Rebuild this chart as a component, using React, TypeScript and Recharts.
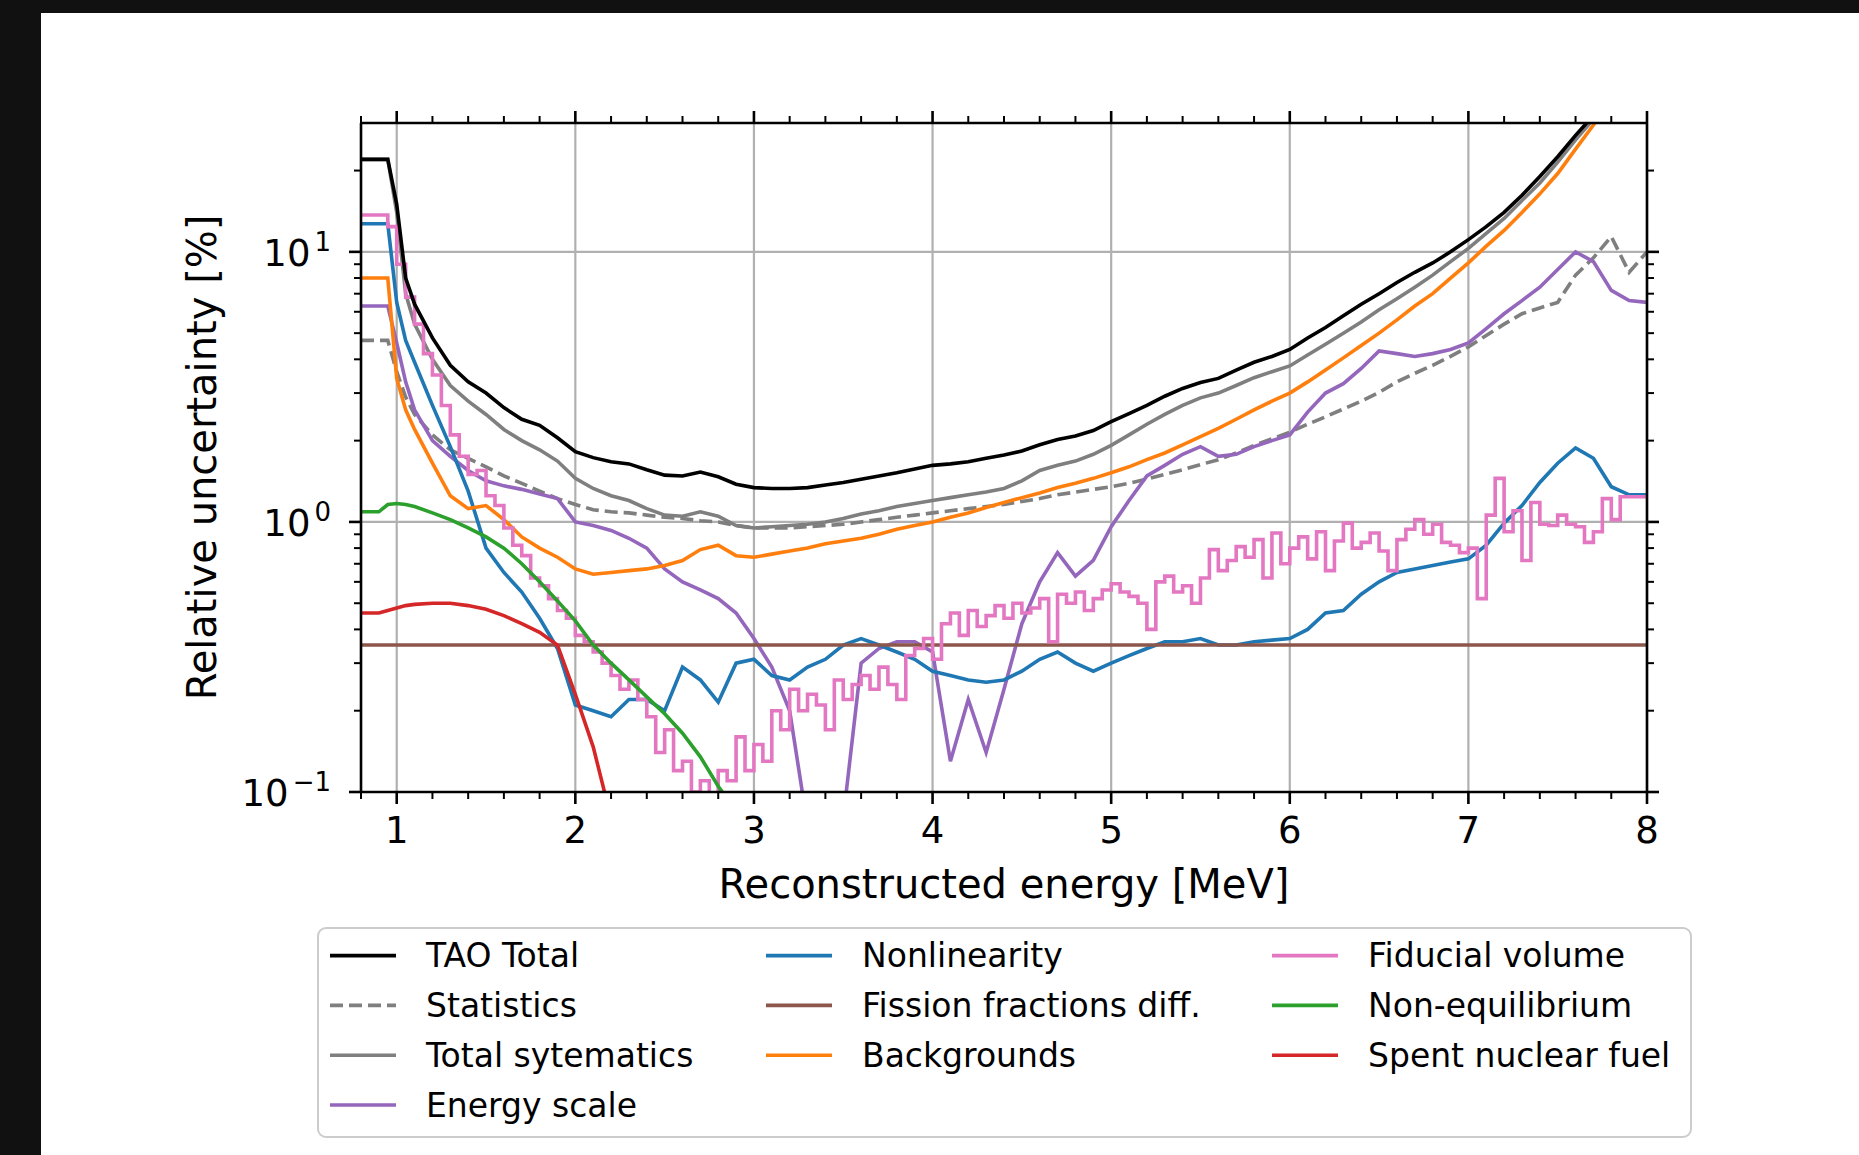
import React from "react";
import { LineChart, Line, XAxis, YAxis, CartesianGrid } from "recharts";

const FONT = "'DejaVu Sans', sans-serif";
const W = 1859;
const H = 1155;
const PLOT = { left: 361, top: 123, right: 1647, bottom: 792 };
// axes get a 1px box so that they are laid out; ticks are drawn by hand
const AXIS_BOX = 1;
const LINE_W = 3.6;

// bin positions in MeV shared by the smooth curves
const energy = [
  0.8, 0.9, 0.95, 1.0, 1.05,
  1.1, 1.2, 1.3, 1.4, 1.5, 1.6, 1.7, 1.8, 1.9, 2.0,
  2.1, 2.2, 2.3, 2.4, 2.5, 2.6, 2.7, 2.8, 2.9, 3.0,
  3.1, 3.2, 3.3, 3.4, 3.5, 3.6, 3.7, 3.8, 3.9, 4.0,
  4.1, 4.2, 4.3, 4.4, 4.5, 4.6, 4.7, 4.8, 4.9, 5.0,
  5.1, 5.2, 5.3, 5.4, 5.5, 5.6, 5.7, 5.8, 5.9, 6.0,
  6.1, 6.2, 6.3, 6.4, 6.5, 6.6, 6.7, 6.8, 6.9, 7.0,
  7.1, 7.2, 7.3, 7.4, 7.5, 7.6, 7.7, 7.8, 7.9, 8.0,
];

// finer binning for the fiducial volume histogram
const energyFine = [
  0.8, 0.95,
  1.0, 1.05, 1.1, 1.15, 1.2, 1.25, 1.3, 1.35, 1.4, 1.45,
  1.5, 1.55, 1.6, 1.65, 1.7, 1.75, 1.8, 1.85, 1.9, 1.95,
  2.0, 2.05, 2.1, 2.15, 2.2, 2.25, 2.3, 2.35, 2.4, 2.45,
  2.5, 2.55, 2.6, 2.65, 2.7, 2.75, 2.8, 2.85, 2.9, 2.95,
  3.0, 3.05, 3.1, 3.15, 3.2, 3.25, 3.3, 3.35, 3.4, 3.45,
  3.5, 3.55, 3.6, 3.65, 3.7, 3.75, 3.8, 3.85, 3.9, 3.95,
  4.0, 4.05, 4.1, 4.15, 4.2, 4.25, 4.3, 4.35, 4.4, 4.45,
  4.5, 4.55, 4.6, 4.65, 4.7, 4.75, 4.8, 4.85, 4.9, 4.95,
  5.0, 5.05, 5.1, 5.15, 5.2, 5.25, 5.3, 5.35, 5.4, 5.45,
  5.5, 5.55, 5.6, 5.65, 5.7, 5.75, 5.8, 5.85, 5.9, 5.95,
  6.0, 6.05, 6.1, 6.15, 6.2, 6.25, 6.3, 6.35, 6.4, 6.45,
  6.5, 6.55, 6.6, 6.65, 6.7, 6.75, 6.8, 6.85, 6.9, 6.95,
  7.0, 7.05, 7.1, 7.15, 7.2, 7.25, 7.3, 7.35, 7.4, 7.45,
  7.5, 7.55, 7.6, 7.65, 7.7, 7.75, 7.8, 7.85, 7.9, 7.95,
  8.0,
];

const fissionEnergy = [0.8, 8.0];

// relative uncertainties in percent
const taoTotal = [
  22, 22, 22, 15, 8.0,
  6.4, 4.8, 3.8, 3.3, 3.0, 2.65, 2.4, 2.28, 2.05, 1.82,
  1.73, 1.67, 1.64, 1.56, 1.49, 1.48, 1.53, 1.47, 1.38, 1.34,
  1.33, 1.33, 1.34, 1.37, 1.4, 1.44, 1.48, 1.52, 1.57, 1.62,
  1.64, 1.67, 1.72, 1.77, 1.83, 1.93, 2.02, 2.08, 2.18, 2.35,
  2.52, 2.7, 2.92, 3.12, 3.28, 3.4, 3.65, 3.9, 4.1, 4.35,
  4.8, 5.25, 5.8, 6.4, 7.0, 7.7, 8.4, 9.1, 10.0, 11.1,
  12.4, 14.0, 16.2, 19.0, 22.5, 27.0, 32, 38, 46, 55,
];

const statistics = [
  4.7, 4.7, 4.7, 3.6, 2.9,
  2.5, 2.1, 1.85, 1.72, 1.6, 1.48, 1.39, 1.3, 1.22, 1.16,
  1.11, 1.09, 1.08, 1.06, 1.04, 1.03, 1.01, 1.0, 0.97, 0.95,
  0.95, 0.95, 0.96, 0.97, 0.98, 1.0, 1.02, 1.04, 1.06, 1.08,
  1.1, 1.12, 1.14, 1.16, 1.19, 1.22, 1.26, 1.29, 1.32, 1.35,
  1.39, 1.44, 1.5, 1.56, 1.63, 1.7, 1.8, 1.92, 2.03, 2.15,
  2.3, 2.45, 2.62, 2.8, 3.02, 3.3, 3.55, 3.8, 4.1, 4.45,
  4.9, 5.4, 5.9, 6.2, 6.5, 8.2, 9.5, 11.4, 8.4, 10.0,
];

const totalSystematics = [
  22, 22, 22, 14, 7.0,
  5.4, 4.0, 3.2, 2.8, 2.5, 2.2, 2.0, 1.85, 1.68, 1.45,
  1.33, 1.25, 1.2, 1.12, 1.06, 1.05, 1.09, 1.05, 0.97, 0.95,
  0.96, 0.97, 0.98, 1.0, 1.03, 1.07, 1.1, 1.14, 1.17, 1.2,
  1.23, 1.26, 1.29, 1.33, 1.42, 1.55, 1.62, 1.68, 1.78, 1.92,
  2.1, 2.3, 2.5, 2.7, 2.88, 3.0, 3.2, 3.42, 3.6, 3.78,
  4.15, 4.55, 5.0, 5.5, 6.1, 6.7, 7.4, 8.2, 9.2, 10.3,
  11.7, 13.3, 15.5, 18, 21.5, 26, 31, 37, 45, 54,
];

const energyScale = [
  6.3, 6.3, 6.3, 4.6, 3.3,
  2.6, 2.0, 1.75, 1.55, 1.42, 1.36, 1.32, 1.27, 1.22, 1.0,
  0.97, 0.93, 0.87, 0.8, 0.67, 0.6, 0.56, 0.52, 0.46, 0.37,
  0.29, 0.2, 0.075, 0.06, 0.08, 0.3, 0.34, 0.36, 0.36, 0.33,
  0.13, 0.22, 0.14, 0.24, 0.42, 0.6, 0.77, 0.63, 0.72, 0.96,
  1.2, 1.48, 1.62, 1.78, 1.9, 1.75, 1.78, 1.9, 2.0, 2.1,
  2.55, 3.0, 3.25, 3.7, 4.3, 4.2, 4.1, 4.2, 4.35, 4.6,
  5.2, 5.9, 6.6, 7.4, 8.6, 10.0, 9.2, 7.2, 6.6, 6.5,
];

const nonlinearity = [
  12.7, 12.7, 12.7, 6.5, 4.7,
  3.9, 2.7, 1.9, 1.3, 0.8, 0.65, 0.55, 0.44, 0.34, 0.21,
  0.2, 0.19, 0.22, 0.22, 0.2, 0.29, 0.26, 0.215, 0.3, 0.31,
  0.27, 0.26, 0.29, 0.31, 0.35, 0.37, 0.35, 0.33, 0.31, 0.28,
  0.27, 0.26, 0.255, 0.26, 0.28, 0.31, 0.33, 0.3, 0.28, 0.3,
  0.32, 0.34, 0.36, 0.36, 0.37, 0.35, 0.35, 0.36, 0.365, 0.37,
  0.4, 0.46, 0.47, 0.54, 0.6, 0.65, 0.67, 0.69, 0.71, 0.73,
  0.82, 0.99, 1.15, 1.4, 1.65, 1.88, 1.72, 1.35, 1.26, 1.26,
];

const fissionFractions = [0.35, 0.35];

const backgrounds = [
  8.0, 8.0, 8.0, 3.4, 2.6,
  2.2, 1.65, 1.25, 1.12, 1.15, 1.02, 0.88, 0.8, 0.74, 0.67,
  0.64, 0.65, 0.66, 0.67, 0.69, 0.72, 0.79, 0.82, 0.75, 0.74,
  0.76, 0.78, 0.8, 0.83, 0.85, 0.87, 0.9, 0.94, 0.97, 1.0,
  1.04, 1.08, 1.13, 1.18, 1.23, 1.28, 1.34, 1.39, 1.45, 1.52,
  1.6, 1.7, 1.8, 1.93, 2.07, 2.22, 2.4, 2.6, 2.8, 3.0,
  3.3, 3.65, 4.05, 4.5, 5.0, 5.6, 6.3, 7.0, 8.0, 9.1,
  10.5, 12.0, 14.0, 16.4, 19.5, 24.0, 29.5, 36, 44, 53,
];

const fiducialVolume = [
  13.7, 12.4,
  9.0, 6.8, 5.4, 4.2, 3.5, 2.7, 2.1, 1.75, 1.5, 1.55,
  1.25, 1.15, 0.95, 0.82, 0.75, 0.62, 0.58, 0.52, 0.47, 0.44,
  0.38, 0.36, 0.33, 0.3, 0.27, 0.24, 0.26, 0.22, 0.19, 0.14,
  0.17, 0.12, 0.13, 0.1, 0.11, 0.095, 0.12, 0.11, 0.16, 0.12,
  0.15, 0.13, 0.2, 0.17, 0.24, 0.2, 0.23, 0.21, 0.17, 0.26,
  0.22, 0.25, 0.27, 0.24, 0.29, 0.25, 0.22, 0.32, 0.34, 0.37,
  0.31, 0.42, 0.46, 0.38, 0.47, 0.41, 0.45, 0.49, 0.44, 0.5,
  0.46, 0.48, 0.52, 0.36, 0.54, 0.5, 0.55, 0.47, 0.52, 0.56,
  0.59, 0.55, 0.53, 0.5, 0.4, 0.6, 0.63, 0.55, 0.58, 0.5,
  0.62, 0.79, 0.66, 0.72, 0.81, 0.74, 0.86, 0.62, 0.91, 0.7,
  0.8, 0.88, 0.73, 0.92, 0.66, 0.85, 0.99, 0.8, 0.84, 0.91,
  0.78, 0.66, 0.86, 0.94, 1.02, 0.9, 0.98, 0.84, 0.82, 0.77,
  0.8, 0.52, 1.06, 1.45, 0.92, 1.1, 0.72, 1.18, 0.98, 0.97,
  1.06, 0.98, 0.96, 0.84, 0.92, 1.22, 1.02, 1.24, 1.24, 1.24,
  1.24,
];

// these two fall below the axis range, so only the first bins are listed
const nonEquilibrium = [
  1.09, 1.09, 1.16, 1.17, 1.16,
  1.14, 1.08, 1.02, 0.95, 0.88, 0.8, 0.7, 0.6, 0.51, 0.43,
  0.35, 0.3, 0.26, 0.225, 0.195, 0.165, 0.135, 0.105, 0.085, 0.07,
];

const spentFuel = [
  0.46, 0.46, 0.47, 0.48, 0.49,
  0.495, 0.5, 0.5, 0.49, 0.475, 0.45, 0.42, 0.39, 0.35, 0.23,
  0.147, 0.08, 0.05,
];

const xTicks = [
  0.8, 1, 1.2, 1.4, 1.6, 1.8, 2, 2.2, 2.4, 2.6, 2.8, 3, 3.2, 3.4, 3.6, 3.8, 4,
  4.2, 4.4, 4.6, 4.8, 5, 5.2, 5.4, 5.6, 5.8, 6, 6.2, 6.4, 6.6, 6.8, 7, 7.2, 7.4,
  7.6, 7.8, 8,
];
const xMajor = [1, 2, 3, 4, 5, 6, 7, 8];
const yTicks = [
  0.1, 0.2, 0.3, 0.4, 0.5, 0.6, 0.7, 0.8, 0.9, 1, 2, 3, 4, 5, 6, 7, 8, 9, 10, 20,
];
const yMajor = [0.1, 1, 10];
const yExponents = ["\u22121", "0", "1"];

const toPoints = (xs: number[], ys: number[]) =>
  ys.map((v, i) => ({ e: xs[i], v }));

type Series = {
  name: string;
  xs: number[];
  ys: number[];
  color: string;
  dash?: string;
  step?: boolean;
};

// legend order (three columns, filled top to bottom)
const series: Series[] = [
  { name: "TAO Total", xs: energy, ys: taoTotal, color: "#000000" },
  { name: "Statistics", xs: energy, ys: statistics, color: "#7f7f7f", dash: "13 6" },
  { name: "Total sytematics", xs: energy, ys: totalSystematics, color: "#7f7f7f" },
  { name: "Energy scale", xs: energy, ys: energyScale, color: "#9467bd" },
  { name: "Nonlinearity", xs: energy, ys: nonlinearity, color: "#1f77b4" },
  { name: "Fission fractions diff.", xs: fissionEnergy, ys: fissionFractions, color: "#8c564b" },
  { name: "Backgrounds", xs: energy, ys: backgrounds, color: "#ff7f0e" },
  { name: "Fiducial volume", xs: energyFine, ys: fiducialVolume, color: "#e377c2", step: true },
  { name: "Non-equilibrium", xs: energy, ys: nonEquilibrium, color: "#2ca02c" },
  { name: "Spent nuclear fuel", xs: energy, ys: spentFuel, color: "#d62728" },
];

// draw the total on top of everything else
const drawOrder = [...series.slice(1), series[0]];

const MAJOR_LEN = 12;
const MINOR_LEN = 7;
const spine = { stroke: "#000", strokeWidth: 2.6 };

const tickStroke = (major: boolean) => ({
  stroke: "#000",
  strokeWidth: major ? 2.6 : 2,
});

const BottomTick = ({ x, y, payload }: any) => {
  const major = xMajor.includes(payload.value);
  return (
    <g>
      <line x1={x} x2={x} y1={y} y2={y + (major ? MAJOR_LEN : MINOR_LEN)} {...tickStroke(major)} />
      {major && (
        <text x={x} y={y + 51} textAnchor="middle" fontFamily={FONT} fontSize={37} fill="#000">
          {payload.value}
        </text>
      )}
    </g>
  );
};

const TopTick = ({ x, y, payload }: any) => {
  const major = xMajor.includes(payload.value);
  return <line x1={x} x2={x} y1={y} y2={y - (major ? MAJOR_LEN : MINOR_LEN)} {...tickStroke(major)} />;
};

const LeftTick = ({ x, y, payload }: any) => {
  const idx = yMajor.indexOf(payload.value);
  const major = idx >= 0;
  return (
    <g>
      <line x1={x - (major ? MAJOR_LEN : MINOR_LEN)} x2={x} y1={y} y2={y} {...tickStroke(major)} />
      {major && (
        <text x={x - 30} y={y + 14} textAnchor="end" fontFamily={FONT} fontSize={37} fill="#000">
          10
          <tspan dx={4} dy={-15} fontSize={26}>
            {yExponents[idx]}
          </tspan>
        </text>
      )}
    </g>
  );
};

const RightTick = ({ x, y, payload }: any) => {
  const major = yMajor.includes(payload.value);
  return <line x1={x} x2={x + (major ? MAJOR_LEN : MINOR_LEN)} y1={y} y2={y} {...tickStroke(major)} />;
};

const XTitle = ({ viewBox }: any) => (
  <text
    x={viewBox.x + viewBox.width / 2}
    y={PLOT.bottom + 106}
    textAnchor="middle"
    fontFamily={FONT}
    fontSize={40}
    fill="#000"
  >
    Reconstructed energy [MeV]
  </text>
);

const YTitle = ({ viewBox }: any) => {
  const cx = PLOT.left - 145;
  const cy = viewBox.y + viewBox.height / 2;
  return (
    <text
      x={cx}
      y={cy}
      transform={`rotate(-90, ${cx}, ${cy})`}
      textAnchor="middle"
      fontFamily={FONT}
      fontSize={40}
      fill="#000"
    >
      Relative uncertainty [%]
    </text>
  );
};

const LEGEND_BOX = { x: 318, y: 928, w: 1373, h: 209 };
const legendColX = [330, 766, 1272];
const legendRowY = [955.6, 1005.4, 1055.2, 1105];

const LegendBox = () => (
  <svg
    width={W}
    height={H}
    style={{ position: "absolute", left: 0, top: 0, pointerEvents: "none" }}
  >
    <rect
      x={LEGEND_BOX.x}
      y={LEGEND_BOX.y}
      width={LEGEND_BOX.w}
      height={LEGEND_BOX.h}
      rx={8}
      fill="#fff"
      fillOpacity={0.8}
      stroke="#cccccc"
      strokeWidth={2}
    />
    {series.map((s, i) => {
      const col = i < 4 ? 0 : i < 7 ? 1 : 2;
      const row = col === 0 ? i : col === 1 ? i - 4 : i - 7;
      const x = legendColX[col];
      const y = legendRowY[row];
      return (
        <g key={s.name}>
          <line
            x1={x}
            x2={x + 66}
            y1={y}
            y2={y}
            stroke={s.color}
            strokeWidth={LINE_W}
            strokeDasharray={s.dash}
          />
          <text
            x={x + 96}
            y={y}
            dominantBaseline="central"
            fontFamily={FONT}
            fontSize={33}
            fill="#000"
          >
            {s.name}
          </text>
        </g>
      );
    })}
  </svg>
);

export default function App() {
  return (
    <div
      style={{
        position: "fixed",
        left: 0,
        top: 0,
        width: W,
        height: H,
        background: "#111",
        overflow: "hidden",
      }}
    >
      <div
        style={{
          position: "absolute",
          left: 41,
          top: 13,
          width: W - 41,
          height: H - 13,
          background: "#fff",
        }}
      />
      <div style={{ position: "absolute", left: 0, top: 0 }}>
        <LineChart
          width={W}
          height={H}
          margin={{
            top: PLOT.top - AXIS_BOX,
            left: PLOT.left - AXIS_BOX,
            right: W - PLOT.right - AXIS_BOX,
            bottom: H - PLOT.bottom - AXIS_BOX,
          }}
        >
          <CartesianGrid
            xAxisId="b"
            yAxisId="l"
            verticalValues={xMajor}
            horizontalValues={yMajor}
            stroke="#b0b0b0"
            strokeWidth={2.2}
          />
          {drawOrder.map((s) => (
            <Line
              key={s.name}
              xAxisId="b"
              yAxisId="l"
              data={toPoints(s.xs, s.ys)}
              dataKey="v"
              type={s.step ? "stepAfter" : "linear"}
              stroke={s.color}
              strokeWidth={LINE_W}
              strokeDasharray={s.dash}
              dot={false}
              activeDot={false}
              isAnimationActive={false}
            />
          ))}
          <XAxis
            xAxisId="b"
            dataKey="e"
            type="number"
            domain={[0.8, 8]}
            allowDataOverflow
            ticks={xTicks}
            interval={0}
            height={AXIS_BOX}
            tickSize={0}
            tickMargin={0}
            tickLine={false}
            axisLine={spine}
            tick={(p: any) => <BottomTick {...p} />}
            label={(p: any) => <XTitle {...p} />}
          />
          <XAxis
            xAxisId="t"
            orientation="top"
            dataKey="e"
            type="number"
            domain={[0.8, 8]}
            allowDataOverflow
            ticks={xTicks}
            interval={0}
            height={AXIS_BOX}
            tickSize={0}
            tickMargin={0}
            tickLine={false}
            axisLine={spine}
            tick={(p: any) => <TopTick {...p} />}
          />
          <YAxis
            yAxisId="l"
            scale="log"
            type="number"
            domain={[0.1, 30]}
            allowDataOverflow
            ticks={yTicks}
            interval={0}
            width={AXIS_BOX}
            tickSize={0}
            tickMargin={0}
            tickLine={false}
            axisLine={spine}
            tick={(p: any) => <LeftTick {...p} />}
            label={(p: any) => <YTitle {...p} />}
          />
          <YAxis
            yAxisId="r"
            orientation="right"
            scale="log"
            type="number"
            domain={[0.1, 30]}
            allowDataOverflow
            ticks={yTicks}
            interval={0}
            width={AXIS_BOX}
            tickSize={0}
            tickMargin={0}
            tickLine={false}
            axisLine={spine}
            tick={(p: any) => <RightTick {...p} />}
          />
        </LineChart>
      </div>
      <LegendBox />
    </div>
  );
}
